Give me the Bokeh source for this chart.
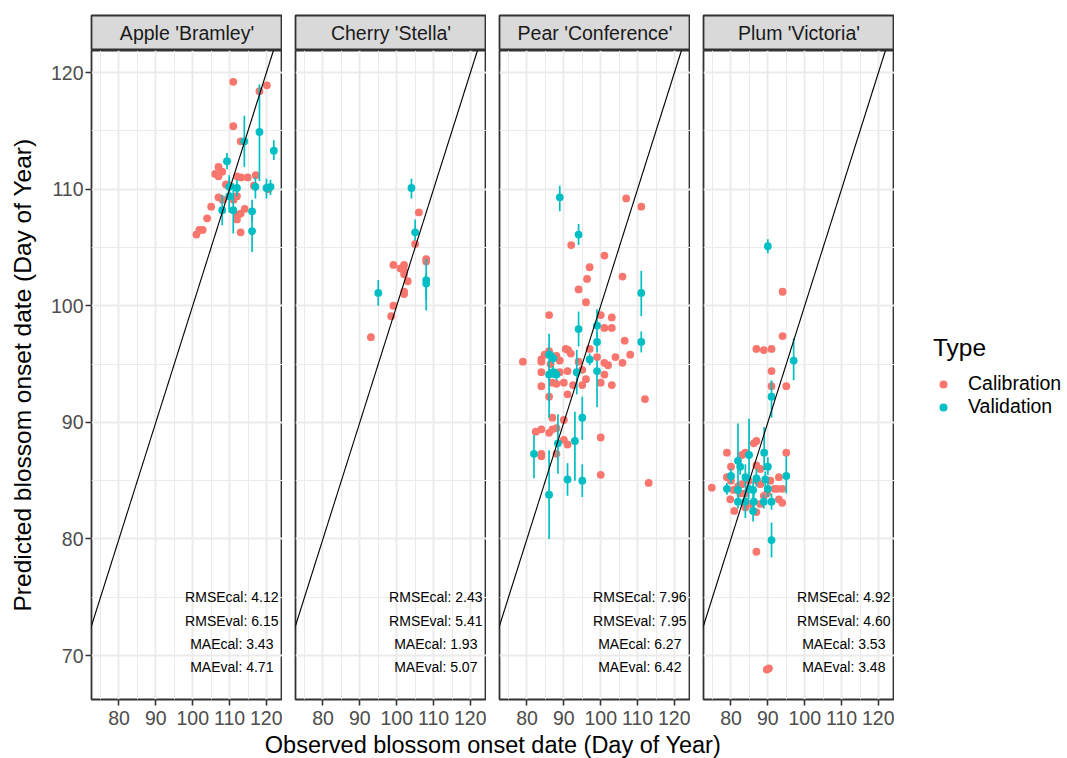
from bokeh.plotting import figure
from bokeh.layouts import row, column
from bokeh.models import Range1d, FixedTicker, Slope, Legend, LegendItem
from bokeh.core.properties import value
from bokeh.embed import file_html
from bokeh.resources import INLINE

# ---------------- data ----------------
cultivars = ["Apple 'Bramley'", "Cherry 'Stella'", "Pear 'Conference'", "Plum 'Victoria'"]

apple_cal_x = [111.0, 120.1, 118.1, 111.0, 113.0, 107.0, 108.0, 106.1, 107.0, 112.0, 113.1, 114.9, 117.1, 109.0, 110.0,
               116.6, 120.5, 107.0, 108.1, 112.0, 111.1, 105.0, 113.0, 114.1, 112.2, 112.0, 103.9, 102.7, 101.8, 101.0, 113.0]
apple_cal_y = [119.2, 118.9, 118.4, 115.4, 114.1, 111.9, 111.5, 111.3, 111.1, 111.1, 111.0, 111.0, 111.2, 110.4, 110.3,
               110.3, 110.0, 109.3, 109.1, 109.4, 109.1, 108.5, 107.9, 108.3, 107.8, 107.4, 107.5, 106.5, 106.5, 106.1, 106.3]
apple_val_x = [118.1, 114.0, 122.0, 109.3, 109.9, 112.0, 117.0, 120.0, 121.1, 109.9, 108.0, 111.0, 116.1, 116.1]
apple_val_y = [114.9, 114.1, 113.3, 112.4, 110.2, 110.1, 110.2, 110.1, 110.2, 109.4, 108.2, 108.2, 108.1, 106.4]
apple_val_lo = [110.7, 111.9, 112.5, 111.7, 109.3, 109.4, 109.2, 109.2, 109.5, 108.0, 106.9, 106.2, 107.2, 104.6]
apple_val_hi = [119.0, 116.3, 114.2, 113.1, 111.2, 110.8, 111.0, 110.9, 110.8, 110.8, 109.5, 110.5, 109.1, 108.3]

cherry_cal_x = [106.0, 105.0, 108.0, 108.0, 99.1, 102.0, 101.0, 102.0, 102.0, 103.0, 102.0, 102.0, 99.1, 98.5, 93.0]
cherry_cal_y = [108.0, 105.3, 104.0, 103.8, 103.5, 103.5, 103.2, 103.0, 102.7, 102.1, 101.2, 101.0, 100.0, 99.1, 97.3]
cherry_val_x = [104.0, 105.0, 108.0, 108.0, 95.0]
cherry_val_y = [110.1, 106.3, 102.2, 101.9, 101.1]
cherry_val_lo = [109.2, 105.6, 100.5, 99.6, 100.0]
cherry_val_hi = [110.9, 107.4, 104.0, 102.8, 102.2]

pear_cal_x = [106.9, 111.0, 92.0, 101.0, 97.0, 96.3, 105.9, 94.0, 96.0, 86.0, 100.0, 103.0, 101.0, 103.0, 106.5,
              78.9, 83.9, 83.9, 84.8, 86.0, 88.0, 88.9, 90.5, 91.2, 91.9, 94.0, 97.0, 99.0, 101.0, 102.0, 104.0,
              105.9, 108.0, 83.9, 86.4, 88.9, 91.0, 95.0, 101.0, 96.0, 83.9, 86.9, 88.0, 90.0, 92.5, 95.0, 100.0,
              103.0, 86.0, 91.0, 112.0, 86.9, 90.0, 82.4, 83.9, 86.0, 86.9, 88.0, 100.0, 90.0, 91.0, 83.9, 83.9,
              88.0, 100.0, 113.0]
pear_cal_y = [109.2, 108.5, 105.2, 104.3, 103.3, 102.3, 102.5, 101.4, 100.3, 99.2, 99.2, 99.0, 98.1, 98.1, 97.0,
              95.2, 95.4, 95.2, 95.8, 96.1, 95.7, 95.3, 96.3, 96.2, 95.9, 95.2, 96.3, 95.6, 95.1, 94.9, 95.6,
              95.1, 95.8, 94.3, 95.0, 94.3, 94.4, 94.5, 94.1, 93.7, 93.1, 93.4, 93.3, 93.4, 93.2, 93.2, 93.4,
              93.2, 92.2, 92.4, 92.0, 90.4, 90.2, 89.2, 89.4, 89.1, 89.4, 89.5, 88.7, 88.5, 88.1, 87.3, 87.1,
              87.3, 85.5, 84.8]
pear_val_x = [88.9, 94.0, 111.0, 94.0, 99.0, 99.0, 111.0, 86.0, 87.1, 86.0, 87.1, 88.0, 97.0, 93.5, 99.0, 95.0,
              88.4, 93.0, 81.9, 91.0, 95.0, 86.0]
pear_val_y = [109.3, 106.1, 101.1, 98.0, 98.3, 96.9, 96.9, 95.8, 95.5, 94.1, 94.3, 94.1, 95.4, 94.3, 94.4, 90.4,
              88.2, 88.4, 87.3, 85.1, 85.0, 83.8]
pear_val_lo = [108.1, 105.2, 99.1, 96.5, 97.0, 96.0, 96.0, 90.4, 95.0, 93.6, 93.8, 93.6, 94.9, 92.4, 91.3, 88.5,
               85.6, 85.0, 85.2, 83.7, 83.6, 80.0]
pear_val_hi = [110.3, 107.0, 103.0, 99.5, 99.7, 97.7, 97.8, 97.6, 96.0, 94.6, 94.8, 94.6, 95.9, 96.2, 95.3, 92.2,
               90.7, 90.9, 88.9, 86.5, 86.4, 87.6]

plum_cal_x = [94.0, 94.0, 86.9, 88.9, 91.0, 91.0, 91.0, 95.0, 78.9, 95.0, 86.9, 86.2, 74.8, 86.9, 89.7, 90.3,
              78.9, 80.0, 81.9, 83.0, 83.9, 84.8, 87.1, 88.0, 88.9, 91.8, 93.9, 93.0, 93.0, 93.9, 79.8, 80.9,
              83.9, 86.9, 88.0, 83.0, 83.9, 86.9, 88.0, 89.8, 85.3, 82.5, 90.7, 92.5, 80.0, 80.7]
plum_cal_y = [101.2, 97.4, 96.3, 96.2, 96.3, 94.4, 93.1, 93.1, 87.4, 87.4, 88.4, 88.2, 84.4, 78.9, 68.8, 68.9,
              85.3, 86.2, 84.5, 84.7, 83.9, 85.0, 85.0, 84.7, 83.7, 84.3, 84.3, 85.3, 83.4, 83.1, 83.4, 82.4,
              82.7, 82.3, 83.0, 87.2, 87.4, 86.3, 86.0, 83.9, 83.0, 83.9, 85.0, 84.3, 85.0, 84.2]
plum_val_x = [90.0, 97.0, 91.0, 84.9, 89.0, 81.9, 82.5, 90.0, 95.0, 80.0, 83.9, 86.9, 89.3, 78.9, 81.9, 84.8,
              86.0, 90.0, 81.9, 83.9, 86.2, 88.9, 91.0, 86.0, 91.0]
plum_val_y = [105.1, 95.3, 92.2, 87.2, 87.4, 86.7, 86.2, 86.2, 85.4, 85.4, 85.3, 85.2, 85.1, 84.3, 84.2, 84.3,
              84.2, 84.3, 83.2, 83.2, 83.2, 83.2, 83.2, 82.4, 79.9]
plum_val_lo = [104.5, 93.6, 90.4, 85.0, 85.9, 84.2, 85.5, 85.5, 83.9, 84.8, 84.5, 84.5, 84.4, 83.8, 83.6, 83.4,
               83.3, 83.6, 82.6, 81.8, 82.4, 82.6, 82.5, 81.5, 78.4]
plum_val_hi = [105.7, 97.2, 93.6, 90.3, 89.6, 89.9, 87.0, 87.0, 87.1, 86.0, 86.4, 86.0, 85.8, 84.8, 84.8, 85.2,
               85.0, 85.0, 83.8, 84.2, 84.0, 83.8, 83.9, 83.2, 81.4]

rmse_cal = [4.12, 2.43, 7.96, 4.92]
rmse_val = [6.15, 5.41, 7.95, 4.60]
mae_cal = [3.43, 1.93, 6.27, 3.53]
mae_val = [4.71, 5.07, 6.42, 3.48]

x_ticks = [80, 90, 100, 110, 120]
x_minor = [75, 85, 95, 105, 115]
y_ticks = [70, 80, 90, 100, 110, 120]
y_minor = [75, 85, 95, 105, 115]
stat_x = 110.6
stat_y = [75, 73, 71, 69]

cal_sets = [(apple_cal_x, apple_cal_y), (cherry_cal_x, cherry_cal_y), (pear_cal_x, pear_cal_y), (plum_cal_x, plum_cal_y)]
val_sets = [(apple_val_x, apple_val_y, apple_val_lo, apple_val_hi),
            (cherry_val_x, cherry_val_y, cherry_val_lo, cherry_val_hi),
            (pear_val_x, pear_val_y, pear_val_lo, pear_val_hi),
            (plum_val_x, plum_val_y, plum_val_lo, plum_val_hi)]

# ---------------- style ----------------
FONT = "Liberation Sans"
RED = "#F8766D"
CYAN = "#00BFC4"
X_RANGE = (72.55, 124.35)
Y_RANGE = (66.23, 121.89)
LEFT0 = 91
GAP = 13
FRAME_W = 191
FRAME_H = 649
STRIP_H = 35
TOP = 15
AXIS_H = 30          # space kept under each panel for the x axis
ROW_H = TOP + STRIP_H + FRAME_H + AXIS_H


def make_panel(i):
    left = LEFT0 if i == 0 else GAP
    strip = figure(frame_width=FRAME_W, frame_height=STRIP_H, min_border_left=left, min_border_right=0,
                   min_border_top=TOP, min_border_bottom=0, x_range=Range1d(0, 1), y_range=Range1d(0, 1),
                   x_axis_location=None, y_axis_location=None, toolbar_location=None, output_backend="svg",
                   background_fill_color="#D9D9D9", border_fill_color="white",
                   outline_line_color="#333333", outline_line_width=1.8)
    strip.xgrid.visible = False
    strip.ygrid.visible = False
    strip.text(x=[0.5], y=[0.5], text=[cultivars[i]], text_align="center", text_baseline="middle",
               text_font=value(FONT), text_font_size="19.5px", text_color="#1A1A1A")

    p = figure(frame_width=FRAME_W, frame_height=FRAME_H, min_border_left=left, min_border_right=0,
               min_border_top=0, min_border_bottom=AXIS_H, x_range=Range1d(*X_RANGE), y_range=Range1d(*Y_RANGE),
               x_axis_location="below", y_axis_location="left" if i == 0 else None,
               toolbar_location=None, output_backend="svg",
               background_fill_color="white", border_fill_color="white",
               outline_line_color="#333333", outline_line_width=1.8)
    for g, ticks, minor in ((p.xgrid, x_ticks, x_minor), (p.ygrid, y_ticks, y_minor)):
        g.ticker = FixedTicker(ticks=ticks, minor_ticks=minor)
        g.grid_line_color = "#EBEBEB"
        g.grid_line_width = 2
        g.minor_grid_line_color = "#EBEBEB"
        g.minor_grid_line_width = 1
    axes = list(p.xaxis) + (list(p.yaxis) if i == 0 else [])
    for ax in axes:
        ax.axis_line_color = None
        ax.minor_tick_line_color = None
        ax.major_tick_line_color = "#333333"
        ax.major_tick_line_width = 1.6
        ax.major_tick_out = 6
        ax.major_tick_in = 0
        ax.major_label_text_font = FONT
        ax.major_label_text_font_size = "19.5px"
        ax.major_label_text_color = "#4D4D4D"
        ax.major_label_standoff = 2
    p.xaxis.ticker = FixedTicker(ticks=x_ticks)
    p.xaxis.major_label_standoff = 5
    if i == 0:
        p.yaxis.ticker = FixedTicker(ticks=y_ticks)
        p.yaxis.axis_label = "Predicted blossom onset date (Day of Year)"
        p.yaxis.axis_label_text_font = FONT
        p.yaxis.axis_label_text_font_size = "24.5px"
        p.yaxis.axis_label_text_font_style = "normal"
        p.yaxis.axis_label_text_color = "black"
        p.yaxis.axis_label_standoff = 12

    p.add_layout(Slope(gradient=1, y_intercept=0, line_color="black", line_width=1.1))

    cx, cy = cal_sets[i]
    p.scatter(x=cx, y=cy, size=7.8, fill_color=RED, line_color=None)
    vx, vy, vlo, vhi = val_sets[i]
    p.segment(x0=vx, y0=vlo, x1=vx, y1=vhi, line_color=CYAN, line_width=1.7)
    p.scatter(x=vx, y=vy, size=7.8, fill_color=CYAN, line_color=None)

    labels = ["RMSEcal: %.2f" % rmse_cal[i], "RMSEval: %.2f" % rmse_val[i],
              "MAEcal: %.2f" % mae_cal[i], "MAEval: %.2f" % mae_val[i]]
    p.text(x=[stat_x] * 4, y=stat_y, text=labels, text_align="center", text_baseline="middle",
           text_font=value(FONT), text_font_size="14px", text_color="black")
    return column(strip, p)


cols = [make_panel(i) for i in range(4)]

# legend panel (kept shorter than the panel columns so it never sets the row height)
LEG_H = ROW_H - 10
LEG_W = 1067 - (LEFT0 + 4 * FRAME_W + 3 * GAP)
lg = figure(frame_width=LEG_W, frame_height=LEG_H, min_border=0, x_range=Range1d(0, 1), y_range=Range1d(0, 1),
            x_axis_location=None, y_axis_location=None, toolbar_location=None, output_backend="svg",
            outline_line_color=None, background_fill_color="white", border_fill_color="white")
lg.xgrid.visible = False
lg.ygrid.visible = False
# legend proxies (outside the visible range of the legend panel)
r_cal = lg.scatter(x=[-5], y=[-5], size=8, fill_color=RED, line_color=None)
r_val = lg.scatter(x=[-5], y=[-5], size=8, fill_color=CYAN, line_color=None)
legend = Legend(items=[LegendItem(label="Calibration", renderers=[r_cal]),
                       LegendItem(label="Validation", renderers=[r_val])],
                title="Type", location=(39, LEG_H - 418), orientation="vertical",
                padding=0, margin=0, spacing=0, glyph_width=20, glyph_height=20, label_height=20,
                label_standoff=15, title_standoff=10, border_line_color=None, background_fill_alpha=0,
                title_text_font=FONT, title_text_font_size="24.5px", title_text_font_style="normal",
                title_text_color="black", label_text_font=FONT, label_text_font_size="19.5px",
                label_text_color="black")
lg.add_layout(legend)

# shared x-axis title
XL_W = LEFT0 + 4 * FRAME_W + 3 * GAP
XL_H = 758 - ROW_H
xl = figure(frame_width=XL_W, frame_height=XL_H, min_border=0, x_range=Range1d(0, XL_W), y_range=Range1d(0, XL_H),
            x_axis_location=None, y_axis_location=None, toolbar_location=None, output_backend="svg",
            outline_line_color=None, background_fill_color="white", border_fill_color="white")
xl.xgrid.visible = False
xl.ygrid.visible = False
xl.text(x=[(LEFT0 + XL_W) / 2], y=[14], text=["Observed blossom onset date (Day of Year)"], text_align="center",
        text_baseline="alphabetic", text_font=value(FONT), text_font_size="23.5px", text_color="black")

layout = column(row(*cols, lg), xl)

open("out.html", "w").write(file_html(layout, INLINE))
